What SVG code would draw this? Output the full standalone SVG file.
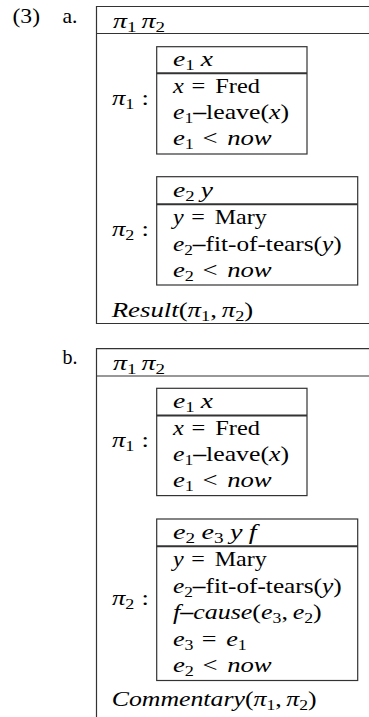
<svg xmlns="http://www.w3.org/2000/svg" width="369" height="717" viewBox="0 0 369 717">
<style>
.t{font-family:'Liberation Serif','DejaVu Serif',serif;font-size:22px;fill:#000}
.i{font-style:italic}
.s{font-size:15px}
.b{stroke:#333;stroke-width:1.2;fill:none}
.h{stroke:#333;stroke-width:2;fill:none}
</style>
<rect width="369" height="717" fill="#fff"/>
<g id="labels">
<text class="t" x="12.5" y="23" textLength="27.5" lengthAdjust="spacingAndGlyphs">(3)</text>
<text class="t" x="62.5" y="23" textLength="15" lengthAdjust="spacingAndGlyphs">a.</text>
<text class="t" x="62.5" y="364" textLength="15" lengthAdjust="spacingAndGlyphs">b.</text>
</g>
<g id="drs-a">
<path class="b" d="M372,6.5 H96.5 V323.5 H372 M96.5,33.5 H372"/>
<text class="t" x="113" y="28" textLength="52" lengthAdjust="spacingAndGlyphs"><tspan class="i">π</tspan><tspan class="s" dy="4">1</tspan><tspan class="i" dx="4" dy="-4">π</tspan><tspan class="s" dy="4">2</tspan></text>
<g id="a-pi1">
<text class="t" x="112" y="105" textLength="37" lengthAdjust="spacingAndGlyphs"><tspan class="i">π</tspan><tspan class="s" dy="4">1</tspan><tspan dx="6" dy="-4">:</tspan></text>
<rect class="b" x="156.7" y="46.7" width="150.3" height="107.3"/>
<line class="h" x1="156.7" y1="73.3" x2="307" y2="73.3"/>
<text class="t" x="173" y="66" textLength="40" lengthAdjust="spacingAndGlyphs"><tspan class="i">e</tspan><tspan class="s" dy="4">1</tspan><tspan class="i" dx="5" dy="-4">x</tspan></text>
<text class="t" x="173" y="93" textLength="87" lengthAdjust="spacingAndGlyphs"><tspan class="i">x</tspan><tspan dx="7">=</tspan><tspan dx="9">Fred</tspan></text>
<text class="t" x="173" y="119" textLength="116" lengthAdjust="spacingAndGlyphs"><tspan class="i">e</tspan><tspan class="s" dy="4">1</tspan><tspan dy="-4" font-weight="bold">–</tspan>leave(<tspan class="i">x</tspan>)</text>
<text class="t" x="173" y="145" textLength="98.7" lengthAdjust="spacingAndGlyphs"><tspan class="i">e</tspan><tspan class="s" dy="4">1</tspan><tspan dx="7" dy="-4">&lt;</tspan><tspan class="i" dx="8">now</tspan></text>
</g>
<g id="a-pi2">
<text class="t" x="112" y="236" textLength="37" lengthAdjust="spacingAndGlyphs"><tspan class="i">π</tspan><tspan class="s" dy="4">2</tspan><tspan dx="6" dy="-4">:</tspan></text>
<rect class="b" x="156.7" y="176.7" width="201" height="108.3"/>
<line class="h" x1="156.7" y1="204.3" x2="357.7" y2="204.3"/>
<text class="t" x="173" y="197" textLength="40" lengthAdjust="spacingAndGlyphs"><tspan class="i">e</tspan><tspan class="s" dy="4">2</tspan><tspan class="i" dx="5" dy="-4">y</tspan></text>
<text class="t" x="173" y="224" textLength="93.7" lengthAdjust="spacingAndGlyphs"><tspan class="i">y</tspan><tspan dx="7">=</tspan><tspan dx="9">Mary</tspan></text>
<text class="t" x="173" y="250.5" textLength="168.7" lengthAdjust="spacingAndGlyphs"><tspan class="i">e</tspan><tspan class="s" dy="4">2</tspan><tspan dy="-4" font-weight="bold">–</tspan>fit-of-tears(<tspan class="i">y</tspan>)</text>
<text class="t" x="173" y="276.5" textLength="98.7" lengthAdjust="spacingAndGlyphs"><tspan class="i">e</tspan><tspan class="s" dy="4">2</tspan><tspan dx="7" dy="-4">&lt;</tspan><tspan class="i" dx="8">now</tspan></text>
</g>
<text class="t" x="111.7" y="317" textLength="141.6" lengthAdjust="spacingAndGlyphs"><tspan class="i">Result</tspan>(<tspan class="i">π</tspan><tspan class="s" dy="4">1</tspan><tspan dy="-4">,</tspan><tspan class="i" dx="4">π</tspan><tspan class="s" dy="4">2</tspan><tspan dy="-4">)</tspan></text>
</g>
<g id="drs-b">
<path class="b" d="M372,348.7 H96.5 V717 M96.5,376 H372"/>
<text class="t" x="113" y="370" textLength="52" lengthAdjust="spacingAndGlyphs"><tspan class="i">π</tspan><tspan class="s" dy="4">1</tspan><tspan class="i" dx="4" dy="-4">π</tspan><tspan class="s" dy="4">2</tspan></text>
<g id="b-pi1">
<text class="t" x="112" y="447" textLength="37" lengthAdjust="spacingAndGlyphs"><tspan class="i">π</tspan><tspan class="s" dy="4">1</tspan><tspan dx="6" dy="-4">:</tspan></text>
<rect class="b" x="156.7" y="388.3" width="150.3" height="107.3"/>
<line class="h" x1="156.7" y1="415.5" x2="307" y2="415.5"/>
<text class="t" x="173" y="408" textLength="40" lengthAdjust="spacingAndGlyphs"><tspan class="i">e</tspan><tspan class="s" dy="4">1</tspan><tspan class="i" dx="5" dy="-4">x</tspan></text>
<text class="t" x="173" y="434.5" textLength="87" lengthAdjust="spacingAndGlyphs"><tspan class="i">x</tspan><tspan dx="7">=</tspan><tspan dx="9">Fred</tspan></text>
<text class="t" x="173" y="460.5" textLength="116" lengthAdjust="spacingAndGlyphs"><tspan class="i">e</tspan><tspan class="s" dy="4">1</tspan><tspan dy="-4" font-weight="bold">–</tspan>leave(<tspan class="i">x</tspan>)</text>
<text class="t" x="173" y="486.5" textLength="98.7" lengthAdjust="spacingAndGlyphs"><tspan class="i">e</tspan><tspan class="s" dy="4">1</tspan><tspan dx="7" dy="-4">&lt;</tspan><tspan class="i" dx="8">now</tspan></text>
</g>
<g id="b-pi2">
<text class="t" x="112" y="605" textLength="37" lengthAdjust="spacingAndGlyphs"><tspan class="i">π</tspan><tspan class="s" dy="4">2</tspan><tspan dx="6" dy="-4">:</tspan></text>
<rect class="b" x="156.7" y="519" width="201" height="161.5"/>
<line class="h" x1="156.7" y1="546.3" x2="357.7" y2="546.3"/>
<text class="t" x="173" y="539" textLength="83.7" lengthAdjust="spacingAndGlyphs"><tspan class="i">e</tspan><tspan class="s" dy="4">2</tspan><tspan class="i" dx="5" dy="-4">e</tspan><tspan class="s" dy="4">3</tspan><tspan class="i" dx="5" dy="-4">y</tspan><tspan class="i" dx="5">f</tspan></text>
<text class="t" x="173" y="566" textLength="93.7" lengthAdjust="spacingAndGlyphs"><tspan class="i">y</tspan><tspan dx="7">=</tspan><tspan dx="9">Mary</tspan></text>
<text class="t" x="173" y="592.5" textLength="168.7" lengthAdjust="spacingAndGlyphs"><tspan class="i">e</tspan><tspan class="s" dy="4">2</tspan><tspan dy="-4" font-weight="bold">–</tspan>fit-of-tears(<tspan class="i">y</tspan>)</text>
<text class="t" x="173" y="619" textLength="148.7" lengthAdjust="spacingAndGlyphs"><tspan class="i">f</tspan><tspan font-weight="bold">–</tspan><tspan class="i">cause</tspan>(<tspan class="i">e</tspan><tspan class="s" dy="4">3</tspan><tspan dy="-4">,</tspan><tspan class="i" dx="4">e</tspan><tspan class="s" dy="4">2</tspan><tspan dy="-4">)</tspan></text>
<text class="t" x="173" y="645.5" textLength="73.7" lengthAdjust="spacingAndGlyphs"><tspan class="i">e</tspan><tspan class="s" dy="4">3</tspan><tspan dx="7" dy="-4">=</tspan><tspan class="i" dx="8">e</tspan><tspan class="s" dy="4">1</tspan></text>
<text class="t" x="173" y="671.5" textLength="98.7" lengthAdjust="spacingAndGlyphs"><tspan class="i">e</tspan><tspan class="s" dy="4">2</tspan><tspan dx="7" dy="-4">&lt;</tspan><tspan class="i" dx="8">now</tspan></text>
</g>
<text class="t" x="111.7" y="706" textLength="205" lengthAdjust="spacingAndGlyphs"><tspan class="i">Commentary</tspan>(<tspan class="i">π</tspan><tspan class="s" dy="4">1</tspan><tspan dy="-4">,</tspan><tspan class="i" dx="4">π</tspan><tspan class="s" dy="4">2</tspan><tspan dy="-4">)</tspan></text>
</g>
</svg>
